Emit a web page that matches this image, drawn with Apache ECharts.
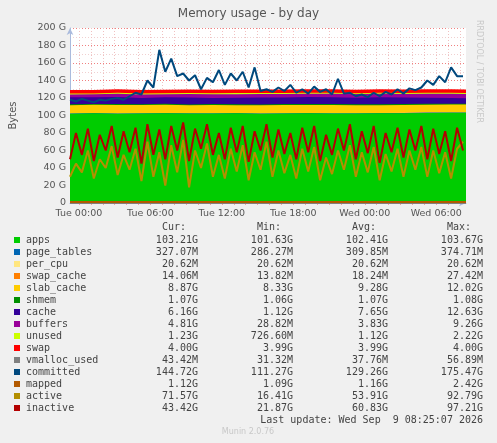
<!DOCTYPE html><html><head><meta charset="utf-8">
<script src="https://cdn.jsdelivr.net/npm/echarts@6/dist/echarts.min.js"></script>
<style>html,body{margin:0;background:#F0F0F0}#c{width:497px;height:443px}</style></head><body><div id="c"></div><script>
// line series time (hours from Tue 00:00)
const lineTimes = [];
for (let i = 0; i < 67; i++) lineTimes.push(-0.75 + 0.5 * i);
const stackTimes = [-0.75,1.25,3.25,5.25,7.25,9.25,11.25,13.25,15.25,17.25,19.25,21.25,23.25,25.25,27.25,29.25,31.25,32.5];
const apps = [102,102.5,102,102.3,102.6,102.2,102.4,102.5,102.1,102.3,102.6,102.4,102.2,102.5,102.7,103,103.2,103.2];
const pageTables = [0.30,0.31,0.30,0.32,0.31,0.30,0.31,0.31,0.30,0.32,0.31,0.30,0.31,0.31,0.30,0.32,0.33,0.33];
const perCpu = [0.02,0.02,0.02,0.02,0.02,0.02,0.02,0.02,0.02,0.02,0.02,0.02,0.02,0.02,0.02,0.02,0.02,0.02];
const swapCache = [0.02,0.02,0.02,0.02,0.02,0.02,0.02,0.02,0.02,0.02,0.02,0.02,0.02,0.02,0.02,0.02,0.01,0.01];
const slabCache = [9.5,9.3,9.6,9.2,9.4,9.1,9.3,9,9.2,9.4,9.1,9.3,9.2,9,9.1,8.9,8.9,8.9];
const shmem = [1.07,1.07,1.07,1.07,1.07,1.07,1.07,1.07,1.07,1.07,1.07,1.07,1.07,1.07,1.07,1.07,1.07,1.07];
const cache = [8,7.5,8,7,7.5,8,7,7.5,8,7.5,8,7.7,7.5,8,7.5,7,6.5,6.2];
const buffers = [3,3.5,3.8,4,3.5,4,4.2,4,3.8,4,3.6,4,4.2,3.8,4,4.5,4.8,4.8];
const unused = [1.2,1,1.1,1.2,1,1.1,1,1.2,1.1,1,1.2,1.1,1,1.2,1.1,1.2,1.2,1.2];
const swap = [4,4,4,4,4,4,4,4,4,4,4,4,4,4,4,4,4,4];
const vmallocUsed = [0.04,0.04,0.04,0.04,0.04,0.04,0.04,0.04,0.04,0.04,0.04,0.04,0.04,0.04,0.04,0.04,0.04,0.04];
const mapped = [1.1,1.2,1.1,1.2,1.1,1.2,1.1,1.2,1.1,1.2,1.1,1.2,1.1,1.2,1.1,1.2,1.1,1.1];
const committed = [118,116,119,117,115,118,117,119,120,118,122,126,124,140,132,
175,150,165,145,148,140,146,130,143,138,152,135,148,140,150,132,155,128,130,127,132,128,135,126,130,125,133,127,130,124,142,125,126,122,124,121,126,122,127,124,130,125,131,129,132,140,135,145,138,155,145,145];
const inactive = [50,80,55,85,48,78,60,88,52,82,58,86,45,90,55,84,50,88,60,92,48,85,62,90,55,80,50,86,58,88,47,82,60,90,52,84,56,80,50,86,58,88,48,78,55,85,60,90,50,82,57,88,46,80,58,86,52,84,60,88,50,85,56,82,48,86,60];
const active = [30,45,35,60,28,50,40,65,32,55,38,62,25,70,30,58,20,66,35,72,18,60,40,68,30,55,28,62,36,66,26,58,38,70,30,60,34,55,28,62,36,64,26,52,33,60,38,66,30,58,35,64,26,56,36,62,30,60,38,64,30,60,34,58,28,62,70];
const xLabelHours = [0,6,12,18,24,30];
const xLabelText = ['Tue 00:00','Tue 06:00','Tue 12:00','Tue 18:00','Wed 00:00','Wed 06:00'];
const legNames = ['apps','page_tables','per_cpu','swap_cache','slab_cache','shmem','cache','buffers','unused','swap','vmalloc_used','committed','mapped','active','inactive'];
const legColors = ['#00CC00','#0066B3','#FFE680','#FF8000','#FFCC00','#008F00','#330099','#990099','#CCFF00','#FF0000','#808080','#00487D','#B35A00','#B38F00','#B30000'];
const legCur = ['103.21G','327.07M','20.62M','14.06M','8.87G','1.07G','6.16G','4.81G','1.23G','4.00G','43.42M','144.72G','1.12G','71.57G','43.42G'];
const legMin = ['101.63G','286.27M','20.62M','13.82M','8.33G','1.06G','1.12G','28.82M','726.60M','3.99G','31.32M','111.27G','1.09G','16.41G','21.87G'];
const legAvg = ['102.41G','309.85M','20.62M','18.24M','9.28G','1.07G','7.65G','3.83G','1.12G','3.99G','37.76M','129.26G','1.16G','53.91G','60.83G'];
const legMax = ['103.67G','374.71M','20.62M','27.42M','12.02G','1.08G','12.63G','9.26G','2.22G','4.00G','56.89M','175.47G','2.42G','92.79G','97.21G'];

const pair = (t, v) => t.map((x, i) => [x, v[i]]);
const stacked = [apps,pageTables,perCpu,swapCache,slabCache,shmem,cache,buffers,unused,swap];
// cumulative tops, drawn from the highest layer down so lower layers cover upper fills
const cum = []; let run = stackTimes.map(() => 0);
stacked.forEach(arr => { run = run.map((v, i) => v + arr[i]); cum.push(run.slice()); });
const series = [];
for (let k = stacked.length - 1; k >= 0; k--) {
  series.push({type:'line', data:pair(stackTimes, cum[k]), symbol:'none',
    lineStyle:{width:0}, areaStyle:{color:legColors[k], opacity:1}, z:2});
}
const lineSets = [[vmallocUsed,10,stackTimes],[committed,11,lineTimes],[mapped,12,stackTimes],[active,13,lineTimes],[inactive,14,lineTimes]];
lineSets.forEach(([arr,k,t]) => series.push({type:'line', data:pair(t,arr), symbol:'none',
  lineStyle:{width:2,color:legColors[k]}, z:3}));

const mono = 'DejaVu Sans Mono';
const g = [];
const hdr = [['Cur:',186],['Min:',281],['Avg:',376],['Max:',471]];
hdr.forEach(([t,x]) => g.push({type:'text', x:x, y:222, style:{text:t, font:'10px '+mono, fill:'#444', align:'right'}}));
legNames.forEach((n,i) => {
  const y = 235 + i*12;
  g.push({type:'rect', shape:{x:14,y:y+2,width:6,height:6}, style:{fill:legColors[i]}});
  g.push({type:'text', x:26, y:y, style:{text:n, font:'10px '+mono, fill:'#444'}});
  [[legCur,198],[legMin,293],[legAvg,388],[legMax,483]].forEach(([a,x]) =>
    g.push({type:'text', x:x, y:y, style:{text:a[i], font:'10px '+mono, fill:'#444', align:'right'}}));
});
g.push({type:'text', x:483, y:415, style:{text:'Last update: Wed Sep  9 08:25:07 2026', font:'10px '+mono, fill:'#444', align:'right'}});
g.push({type:'text', x:248, y:428, style:{text:'Munin 2.0.76', font:'8px DejaVu Sans', fill:'#C8C8C8', align:'center'}});
g.push({type:'text', x:483, y:20, rotation:-Math.PI/2, style:{text:'RRDTOOL / TOBI OETIKER', font:'8px DejaVu Sans', fill:'#C8C8C8'}});

const hours = []; for (let h = 0; h <= 32; h++) hours.push(h);
const chart = echarts.init(document.getElementById('c'));
chart.setOption({
  backgroundColor:'#F0F0F0', animation:false,
  title:{text:'Memory usage - by day', left:'center', top:3, textStyle:{fontFamily:'DejaVu Sans', fontSize:12, fontWeight:'normal', color:'#555'}},
  grid:{left:67, right:31, top:28, bottom:240, backgroundColor:'#fff', show:true, borderWidth:0},
  xAxis:{type:'value', min:-0.75, max:32.5,
    axisLine:{onZero:false, lineStyle:{color:'#AABBDD'}, symbol:['none','arrow'], symbolSize:[5,7]},
    axisTick:{customValues:hours, length:2, lineStyle:{color:'#F0A0A0'}},
    axisLabel:{customValues:xLabelHours, formatter:v=>xLabelText[xLabelHours.indexOf(v)], fontFamily:'DejaVu Sans', fontSize:9.5, color:'#555', margin:6},
    splitLine:{show:true, lineStyle:{color:'#F0C0C0', type:[1,2], width:1}}},
  yAxis:{type:'value', min:0, max:200, interval:20, name:'Bytes', nameLocation:'middle', nameGap:52,
    nameTextStyle:{fontFamily:'DejaVu Sans', fontSize:10, color:'#555'},
    axisLine:{show:true, onZero:false, lineStyle:{color:'#AABBDD'}, symbol:['none','arrow'], symbolSize:[5,7]},
    axisTick:{show:false},
    axisLabel:{formatter:v=>v===0?'0':v+' G', fontFamily:'DejaVu Sans', fontSize:9.5, color:'#555', margin:4},
    splitLine:{lineStyle:{color:'#F08080', type:[1,2]}},
    minorTick:{show:false, splitNumber:2}, minorSplitLine:{show:true, lineStyle:{color:'#F0D0D0', type:[1,2]}}},
  graphic:g, series:series
});
</script></body></html>
